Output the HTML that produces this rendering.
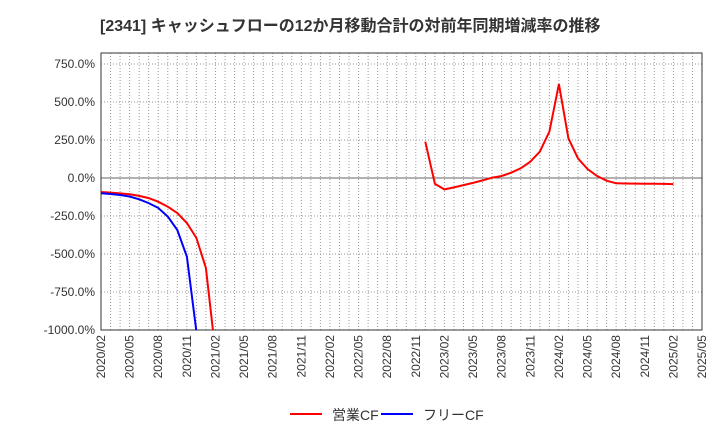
<!DOCTYPE html>
<html><head><meta charset="utf-8"><style>
body{margin:0;background:#fff;font-family:"Liberation Sans","Noto Sans CJK JP",sans-serif;}
</style></head><body>
<svg width="720" height="440" xmlns="http://www.w3.org/2000/svg" id="svg">
<text x="100" y="31" font-size="16" font-weight="bold" fill="#333" font-family="Liberation Sans, Noto Sans CJK JP, sans-serif">[2341]  キャッシュフローの12か月移動合計の対前年同期増減率の推移</text>
<g id="grid"></g><g id="axes"></g><g id="series"></g>
<g>
<line x1="290" y1="414" x2="322" y2="414" stroke="#f00" stroke-width="2"/>
<text x="332" y="420" font-size="14" fill="#333">営業CF</text>
<line x1="381" y1="414" x2="413" y2="414" stroke="#00f" stroke-width="2"/>
<text x="423" y="420" font-size="14" fill="#333">フリーCF</text>
</g>
</svg>
<script>
const xLabels=["2020/02","2020/05","2020/08","2020/11","2021/02","2021/05","2021/08","2021/11","2022/02","2022/05","2022/08","2022/11","2023/02","2023/05","2023/08","2023/11","2024/02","2024/05","2024/08","2024/11","2025/02","2025/05"];
const yTicks=[750,500,250,0,-250,-500,-750,-1000];
const opCF=[-92,-96,-101,-107,-118,-132,-156,-189,-230,-296,-395,-592,-1150,null,null,null,null,null,null,null,null,null,null,null,null,null,null,null,null,null,null,null,null,null,239,-39,-75,-62,-47,-32,-16,2,13,35,64,107,173,305,618,261,129,59,13,-18,-35,-36,-37,-38,-38,-39,-40];
const freeCF=[-100,-105,-112,-122,-140,-165,-197,-254,-342,-518,-1010];
const L=101,R=702,T=53,B=330;
const xs=i=>L+i*(R-L)/63;
const ys=v=>178-v*38/250;
const ns="http://www.w3.org/2000/svg";
function mk(tag,attrs,parent){const e=document.createElementNS(ns,tag);for(const k in attrs)e.setAttribute(k,attrs[k]);document.getElementById(parent).appendChild(e);return e;}
for(let i=0;i<=63;i++){const l=mk('line',{x1:xs(i),x2:xs(i),y1:T,y2:B,stroke:'#999','stroke-dasharray':'1,2','stroke-width':1},'grid');}
yTicks.forEach(v=>{const l=mk('line',{x1:L,x2:R,y1:ys(v),y2:ys(v),stroke:v===0?'#666':'#999','stroke-dasharray':v===0?'none':'1,2'},'grid');
const t=mk('text',{x:L-6,y:ys(v)+4,'text-anchor':'end','font-size':12,fill:'#333'},'axes');t.textContent=v.toFixed(1)+'%';});
const fr=mk('rect',{x:L,y:T,width:R-L,height:B-T,fill:'none',stroke:'#333'},'axes');
xLabels.forEach((s,i)=>{const x=xs(i*3);const t=mk('text',{x:x+4,y:B+5,'text-anchor':'end','font-size':12,fill:'#333',transform:`rotate(-90 ${x+4} ${B+5})`},'axes');t.textContent=s;});
const cp=mk('clipPath',{id:'cp'},'series');mk('rect',{x:L,y:T,width:R-L,height:B-T},'series');cp.appendChild(document.getElementById('series').lastChild);
function path(arr,col,name){let d='',pen=false;arr.forEach((v,i)=>{if(v===null){pen=false;return;}d+=(pen?'L':'M')+xs(i).toFixed(1)+','+ys(v).toFixed(1);pen=true;});const p=mk('path',{d:d,fill:'none',stroke:col,'stroke-width':2,'clip-path':'url(#cp)'},'series');}
path(opCF,'#f00','operating-cf-line');
path(freeCF,'#00f','free-cf-line');
</script>
</body></html>
